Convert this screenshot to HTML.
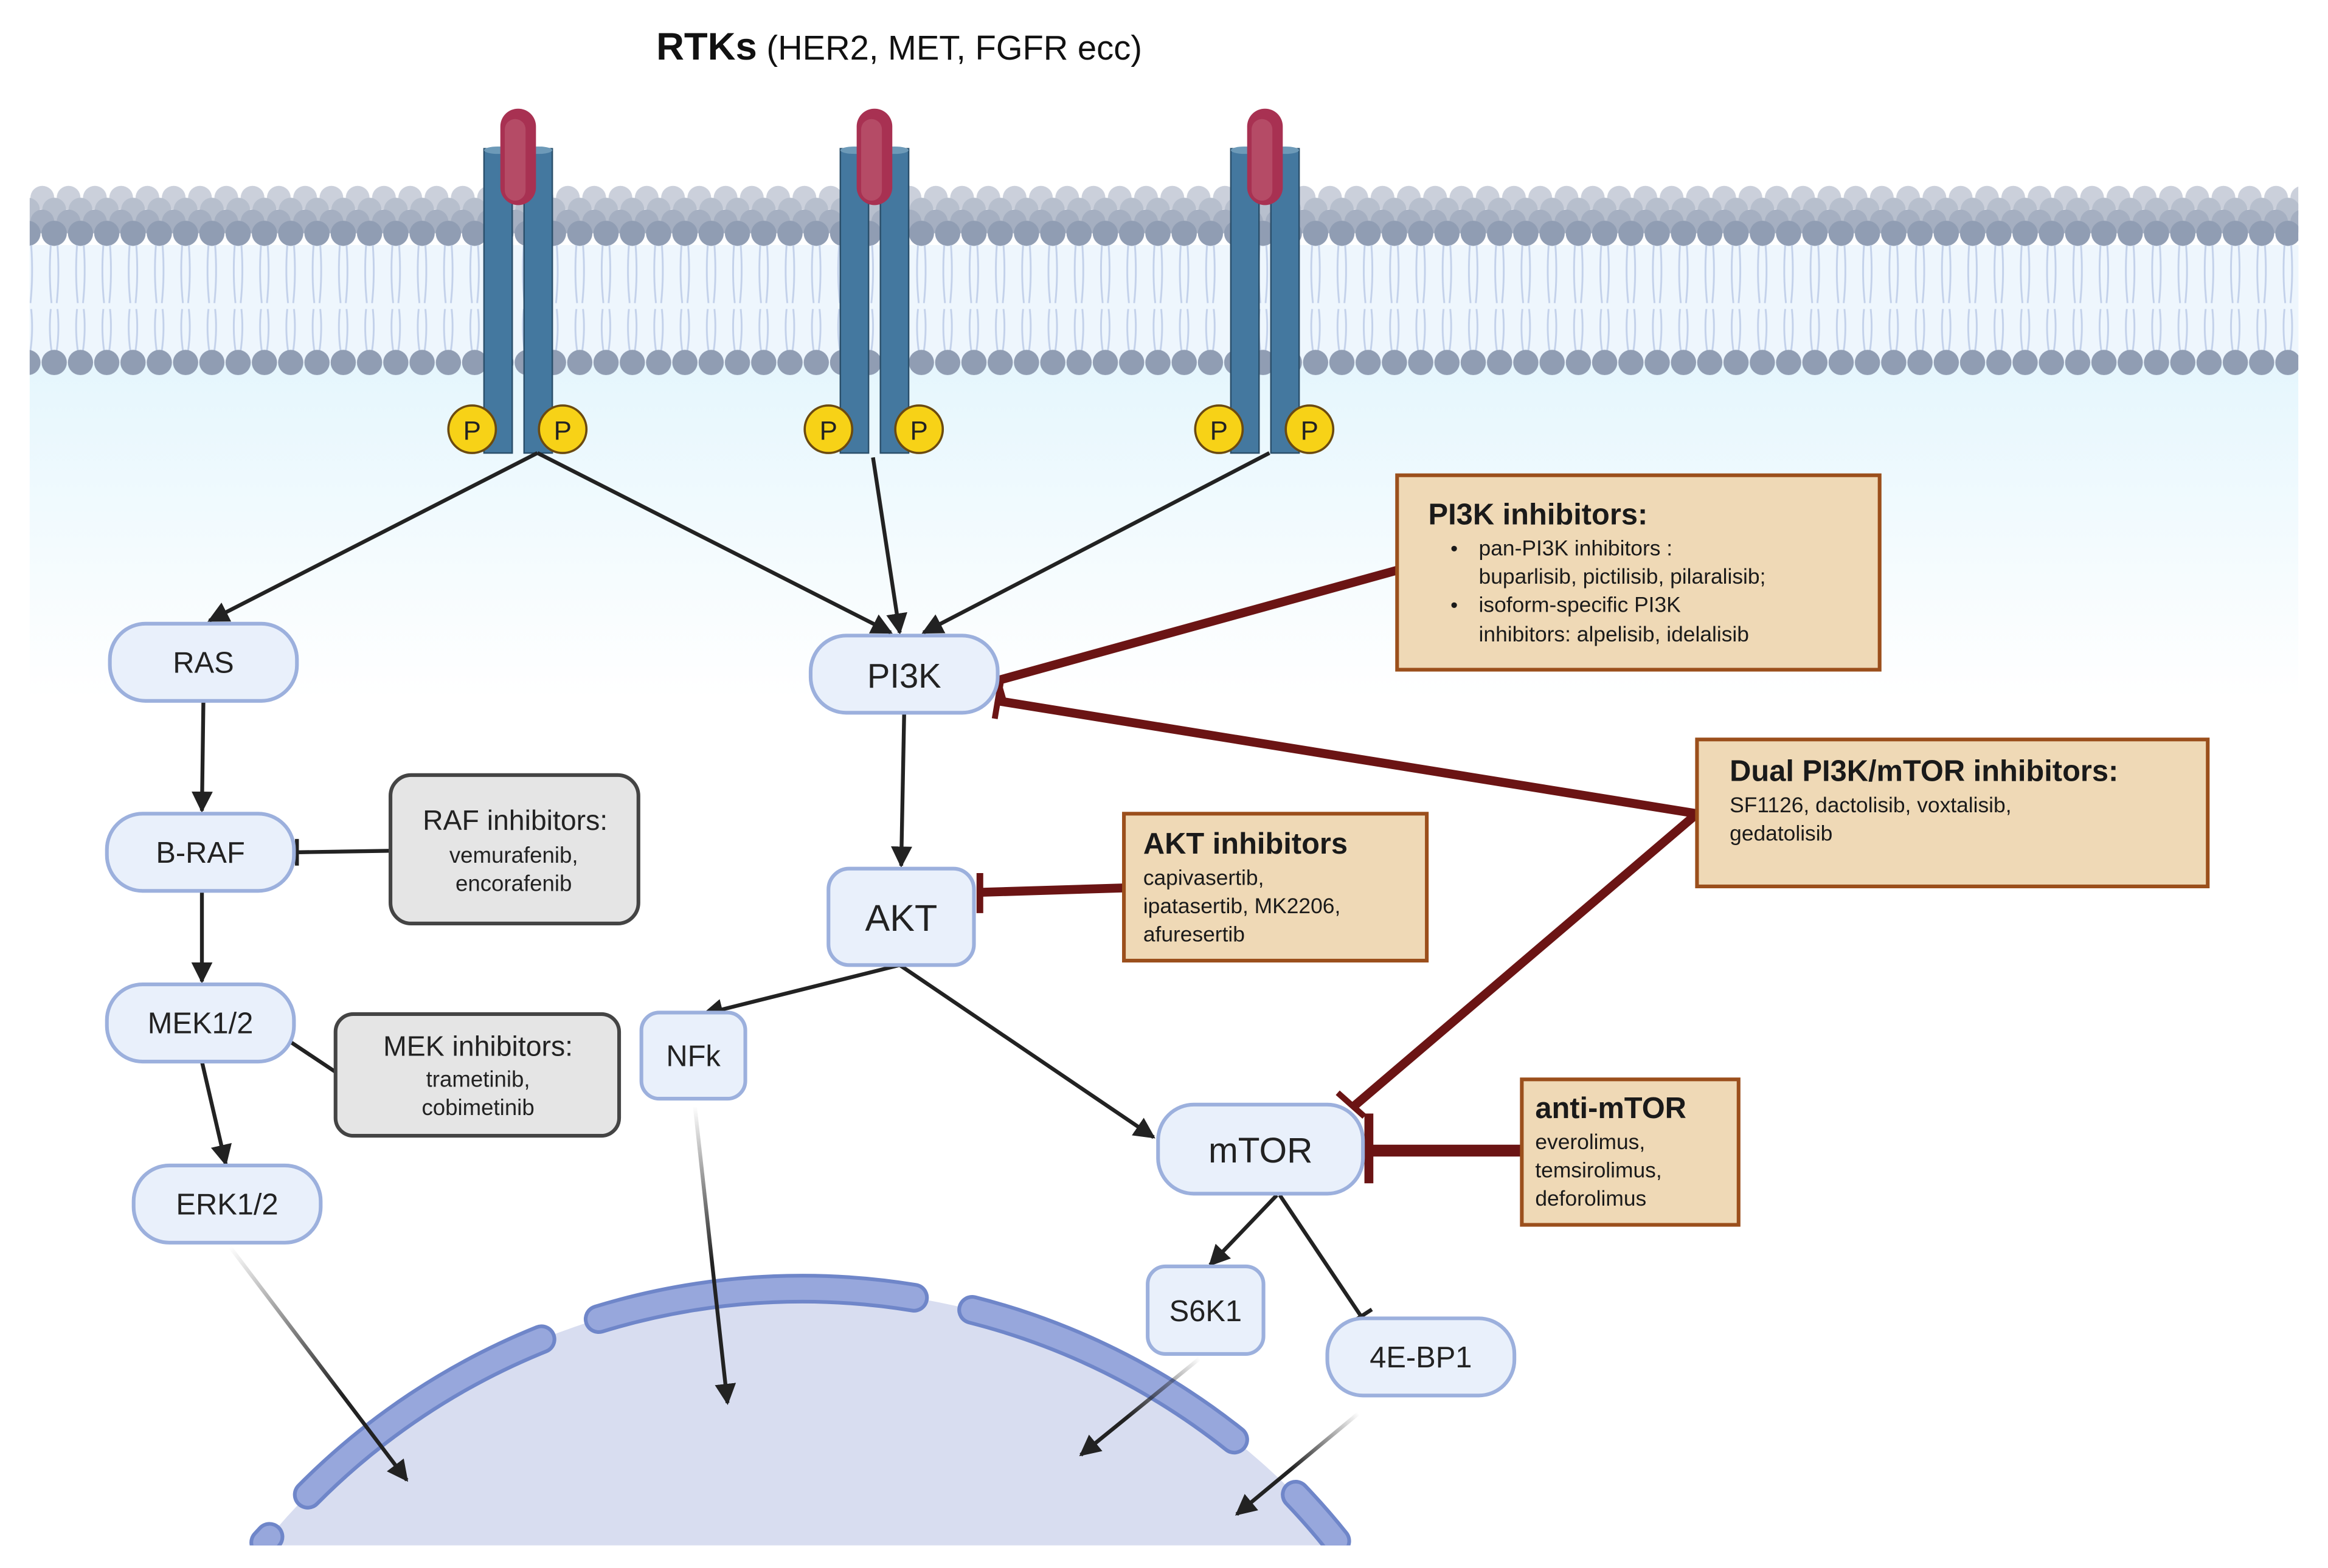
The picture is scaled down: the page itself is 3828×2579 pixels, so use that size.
<!DOCTYPE html>
<html><head><meta charset="utf-8"><style>
html,body{margin:0;padding:0;background:#fff;width:3828px;height:2579px;overflow:hidden;}
svg{display:block;}
text{font-family:"Liberation Sans",sans-serif;}
</style></head><body>
<svg width="3828" height="2579" viewBox="0 0 1568 1056" xmlns="http://www.w3.org/2000/svg">
<defs>
<linearGradient id="cyto" x1="0" y1="0" x2="0" y2="1">
<stop offset="0" stop-color="#dcf3fc"/><stop offset="1" stop-color="#ffffff"/>
</linearGradient>
<pattern id="h1" x="2" y="0" width="17.7" height="300" patternUnits="userSpaceOnUse"><circle cx="8.8" cy="133" r="8" fill="#cbd0db"/></pattern>
<pattern id="h2" x="10" y="0" width="17.7" height="300" patternUnits="userSpaceOnUse"><circle cx="8.8" cy="141" r="8" fill="#b7bfcd"/></pattern>
<pattern id="h3" x="2" y="0" width="17.7" height="300" patternUnits="userSpaceOnUse"><circle cx="8.8" cy="149" r="8" fill="#a5afc1"/></pattern>
<pattern id="h4" x="10" y="0" width="17.7" height="300" patternUnits="userSpaceOnUse"><circle cx="8.8" cy="157" r="8.5" fill="#909db3"/></pattern>
<pattern id="h5" x="10" y="0" width="17.7" height="300" patternUnits="userSpaceOnUse"><circle cx="8.8" cy="244" r="8.5" fill="#909db3"/></pattern>
<pattern id="tl" x="10" y="0" width="17.7" height="300" patternUnits="userSpaceOnUse">
<path d="M6.5 165 Q5 185 7 204 M11 165 Q12.5 185 10.5 204 M6.5 208 Q5 222 7 236 M11 208 Q12.5 222 10.5 236" stroke="#c3d1ea" stroke-width="1.2" fill="none"/></pattern>
<marker id="ar" viewBox="0 0 10 10" refX="9" refY="5" markerWidth="5.5" markerHeight="5.5" orient="auto" markerUnits="strokeWidth"><path d="M0 0L10 5L0 10z" fill="#222"/></marker>
<linearGradient id="g1" gradientUnits="userSpaceOnUse" x1="155" y1="840" x2="230" y2="940"><stop offset="0" stop-color="#222" stop-opacity="0"/><stop offset="1" stop-color="#222"/></linearGradient>
<linearGradient id="g2" gradientUnits="userSpaceOnUse" x1="468" y1="745" x2="480" y2="850"><stop offset="0" stop-color="#222" stop-opacity="0"/><stop offset="1" stop-color="#222"/></linearGradient>
<linearGradient id="g3" gradientUnits="userSpaceOnUse" x1="808" y1="915" x2="760" y2="955"><stop offset="0" stop-color="#222" stop-opacity="0"/><stop offset="1" stop-color="#222"/></linearGradient>
<linearGradient id="g4" gradientUnits="userSpaceOnUse" x1="915" y1="952" x2="870" y2="990"><stop offset="0" stop-color="#222" stop-opacity="0"/><stop offset="1" stop-color="#222"/></linearGradient>
<clipPath id="cl"><rect x="0" y="0" width="1568" height="1041"/></clipPath>
</defs>
<rect width="1568" height="1056" fill="#fff"/>
<rect x="20" y="165" width="1528" height="305" fill="url(#cyto)"/>
<rect x="20" y="165" width="1528" height="80" fill="#eef6fd"/>
<rect x="20" y="120" width="1528" height="50" fill="url(#h1)"/>
<rect x="20" y="120" width="1528" height="50" fill="url(#h2)"/>
<rect x="20" y="120" width="1528" height="50" fill="url(#h3)"/>
<rect x="20" y="120" width="1528" height="60" fill="url(#h4)"/>
<rect x="20" y="160" width="1528" height="80" fill="url(#tl)"/>
<rect x="20" y="234" width="1528" height="20" fill="url(#h5)"/>

<g clip-path="url(#cl)">
<path d="M176.7 1041 A468 468 0 0 1 903.3 1041 Z" fill="#d8ddf0"/>
<g fill="none" stroke-linecap="round">
<g stroke="#6f86c9" stroke-width="20">
<path d="M207.3 1006.8 A468 468 0 0 1 364.7 902.1"/>
<path d="M403.2 888.5 A468 468 0 0 1 615.6 874.1"/>
<path d="M654.8 882.3 A468 468 0 0 1 831.3 969.7"/>
<path d="M872.7 1006.8 A468 468 0 0 1 900 1038"/>
<path d="M178 1039 L181.5 1035.2"/>
</g>
<g stroke="#97a7dc" stroke-width="15">
<path d="M207.3 1006.8 A468 468 0 0 1 364.7 902.1"/>
<path d="M403.2 888.5 A468 468 0 0 1 615.6 874.1"/>
<path d="M654.8 882.3 A468 468 0 0 1 831.3 969.7"/>
<path d="M872.7 1006.8 A468 468 0 0 1 900 1038"/>
<path d="M178 1039 L181.5 1035.2"/>
</g></g>
</g>

<text x="442" y="40" font-size="26" fill="#111"><tspan font-weight="bold">RTKs</tspan><tspan font-size="23"> (HER2, MET, FGFR ecc)</tspan></text>

<g id="rec">
<rect x="326" y="100" width="19" height="205" fill="#44789f" stroke="#2a4f6b" stroke-width="1"/>
<rect x="353" y="100" width="19" height="205" fill="#44789f" stroke="#2a4f6b" stroke-width="1"/>
<ellipse cx="335.5" cy="101" rx="9.5" ry="2.5" fill="#6d9ab8"/>
<ellipse cx="362.5" cy="101" rx="9.5" ry="2.5" fill="#6d9ab8"/>
<rect x="337" y="73" width="24" height="65" rx="12" fill="#a83152"/>
<rect x="340" y="80" width="14" height="55" rx="7" fill="#b54b66"/>
<circle cx="318" cy="289" r="16" fill="#f7d217" stroke="#6b4a10" stroke-width="1.5"/>
<circle cx="379" cy="289" r="16" fill="#f7d217" stroke="#6b4a10" stroke-width="1.5"/>
<text x="318" y="296" font-size="18" text-anchor="middle" fill="#222">P</text>
<text x="379" y="296" font-size="18" text-anchor="middle" fill="#222">P</text>
</g>
<use href="#rec" x="240"/>
<use href="#rec" x="503"/>

<g stroke="#222" stroke-width="2.6" fill="none" marker-end="url(#ar)">
<line x1="362" y1="305" x2="141" y2="418"/>
<line x1="362" y1="305" x2="600" y2="426"/>
<line x1="588" y1="308" x2="606" y2="426"/>
<line x1="855" y1="305" x2="622" y2="426"/>
<line x1="137" y1="472" x2="136" y2="546"/>
<line x1="136" y1="600" x2="136" y2="661"/>
<line x1="136" y1="715" x2="152" y2="784"/>
<line x1="609" y1="480" x2="607" y2="583"/>
<line x1="606" y1="650" x2="474" y2="683"/>
<line x1="606" y1="650" x2="777" y2="766"/>
<line x1="860" y1="805" x2="815" y2="852"/>
<line x1="155" y1="840" x2="274" y2="997" stroke="url(#g1)"/>
<line x1="468" y1="745" x2="490" y2="945" stroke="url(#g2)"/>
<line x1="808" y1="915" x2="728" y2="980" stroke="url(#g3)"/>
<line x1="915" y1="952" x2="833" y2="1020" stroke="url(#g4)"/>
</g>
<g stroke="#222" stroke-width="2.6" fill="none">
<line x1="862" y1="805" x2="917" y2="887"/>
<line x1="910" y1="891" x2="924" y2="882"/>
<line x1="263" y1="573" x2="200" y2="574"/>
<line x1="200" y1="565" x2="200" y2="583"/>
<line x1="226" y1="722" x2="193" y2="700"/>
<line x1="188" y1="707" x2="198" y2="693"/>
</g>

<g stroke="#6b1414" stroke-width="6" fill="none">
<line x1="941" y1="384" x2="673" y2="458"/>
<line x1="668" y1="444" x2="676" y2="472" stroke-width="4"/>
<line x1="1143" y1="548" x2="672" y2="472"/>
<line x1="670" y1="484" x2="674" y2="460" stroke-width="4"/>
<line x1="1143" y1="548" x2="912" y2="745"/>
<line x1="901" y1="736" x2="919" y2="752" stroke-width="4"/>
<line x1="757" y1="598" x2="660" y2="601"/>
<line x1="660" y1="588" x2="660" y2="615" stroke-width="4.5"/>
<line x1="1025" y1="775" x2="922" y2="775" stroke-width="8"/>
<line x1="922" y1="750" x2="922" y2="797" stroke-width="6"/>
</g>

<g fill="#e9f0fb" stroke="#9cb0dd" stroke-width="2.5">
<rect x="74" y="420" width="126" height="52" rx="24"/>
<rect x="72" y="548" width="126" height="52" rx="24"/>
<rect x="72" y="663" width="126" height="52" rx="24"/>
<rect x="90" y="785" width="126" height="52" rx="24"/>
<rect x="546" y="428" width="126" height="52" rx="24"/>
<rect x="558" y="585" width="98" height="65" rx="14"/>
<rect x="432" y="682" width="70" height="58" rx="12"/>
<rect x="780" y="744" width="138" height="60" rx="24"/>
<rect x="773" y="853" width="78" height="59" rx="12"/>
<rect x="894" y="888" width="126" height="52" rx="24"/>
</g>
<g font-size="20" fill="#222" text-anchor="middle">
<text x="137" y="453">RAS</text>
<text x="135" y="581">B-RAF</text>
<text x="135" y="696">MEK1/2</text>
<text x="153" y="818">ERK1/2</text>
<text x="609" y="463" font-size="23">PI3K</text>
<text x="607" y="627" font-size="25">AKT</text>
<text x="467" y="718">NFk</text>
<text x="849" y="783" font-size="24">mTOR</text>
<text x="812" y="890">S6K1</text>
<text x="957" y="921">4E-BP1</text>
</g>

<g fill="#e5e5e5" stroke="#444" stroke-width="2.5">
<rect x="263" y="522" width="167" height="100" rx="14"/>
<rect x="226" y="683" width="191" height="82" rx="12"/>
</g>
<g fill="#222" text-anchor="middle">
<text x="347" y="559" font-size="19">RAF inhibitors:</text>
<text x="346" y="581" font-size="15">vemurafenib,</text>
<text x="346" y="600" font-size="15">encorafenib</text>
<text x="322" y="711" font-size="19">MEK inhibitors:</text>
<text x="322" y="732" font-size="15">trametinib,</text>
<text x="322" y="751" font-size="15">cobimetinib</text>
</g>

<g fill="#efd9b6" stroke="#9b4f1c" stroke-width="2.5">
<rect x="941" y="320" width="325" height="131"/>
<rect x="757" y="548" width="204" height="99"/>
<rect x="1143" y="498" width="344" height="99"/>
<rect x="1025" y="727" width="146" height="98"/>
</g>
<g fill="#1a1a1a">
<text x="962" y="353" font-size="20" font-weight="bold">PI3K inhibitors:</text>
<text x="977" y="374" font-size="14">•</text>
<text x="996" y="374" font-size="14.5">pan-PI3K  inhibitors :</text>
<text x="996" y="393" font-size="14.5">buparlisib, pictilisib, pilaralisib;</text>
<text x="977" y="412" font-size="14">•</text>
<text x="996" y="412" font-size="14.5">isoform-specific PI3K</text>
<text x="996" y="432" font-size="14.5">inhibitors: alpelisib, idelalisib</text>

<text x="770" y="575" font-size="20" font-weight="bold">AKT inhibitors</text>
<text x="770" y="596" font-size="14.5">capivasertib,</text>
<text x="770" y="615" font-size="14.5">ipatasertib, MK2206,</text>
<text x="770" y="634" font-size="14.5">afuresertib</text>

<text x="1165" y="526" font-size="20" font-weight="bold">Dual PI3K/mTOR inhibitors:</text>
<text x="1165" y="547" font-size="14.5">SF1126, dactolisib, voxtalisib,</text>
<text x="1165" y="566" font-size="14.5">gedatolisib</text>

<text x="1034" y="753" font-size="20" font-weight="bold">anti-mTOR</text>
<text x="1034" y="774" font-size="14.5">everolimus,</text>
<text x="1034" y="793" font-size="14.5">temsirolimus,</text>
<text x="1034" y="812" font-size="14.5">deforolimus</text>
</g>
</svg>
</body></html>
